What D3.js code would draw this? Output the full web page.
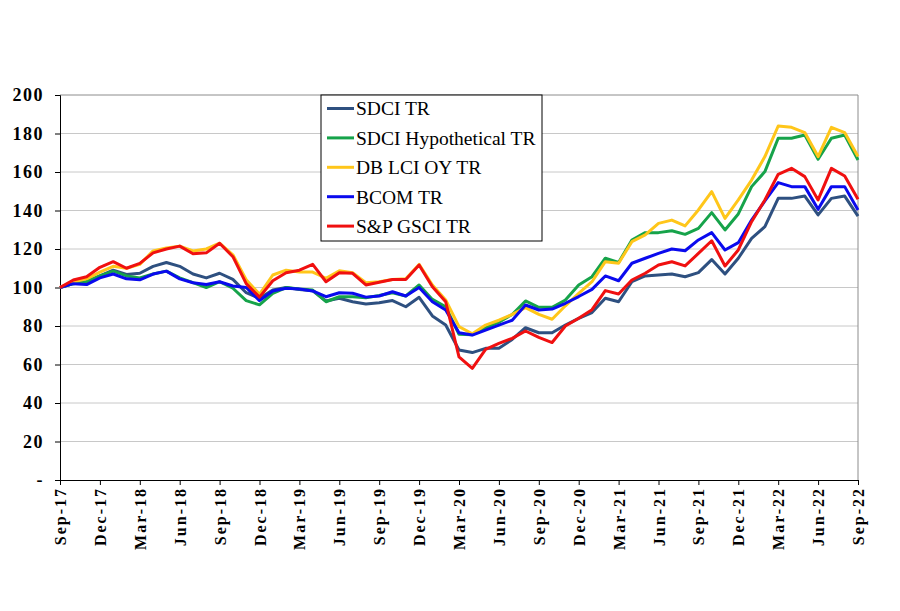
<!DOCTYPE html>
<html><head><meta charset="utf-8">
<script src="https://cdn.jsdelivr.net/npm/d3@7"></script>
<style>
html,body{margin:0;padding:0;background:#fff;}
svg{display:block;}
</style></head>
<body>
<svg id="chart" width="900" height="611"></svg>
<script>
const tickLabels = ["Sep-17","Dec-17","Mar-18","Jun-18","Sep-18","Dec-18","Mar-19","Jun-19","Sep-19","Dec-19","Mar-20","Jun-20","Sep-20","Dec-20","Mar-21","Jun-21","Sep-21","Dec-21","Mar-22","Jun-22","Sep-22"];
const yTicks = [0,20,40,60,80,100,120,140,160,180,200];
const seriesNames = ["SDCI TR","SDCI Hypothetical TR","DB LCI OY TR","BCOM TR","S&P GSCI TR"];
const sdci = [100,102,103,106,109,106.8,107.4,111,113,111,107,105,107.4,104.2,97.3,94.4,98.7,100,99,98.3,93,94.4,92.6,91.4,92.1,93.2,90,94.9,85.2,80.5,67.5,66.2,68.4,68.4,73,79.1,76.5,76.5,80.5,84,87,94.4,92.6,103,106,106.5,107,105.6,107.7,114.5,107,115.2,125.5,131.6,146.3,146.3,147.5,137.7,146.3,147.5,137.1];
const sdciHyp = [100,102,103,106,108.5,106,105,107,108.5,105,102.5,100,103,99.6,93.2,91,97,100,99.2,98.7,92.6,95.2,95.2,94.7,95.8,97.3,95.6,101.3,93.8,90,75.7,75.5,79,82,86,93,89.7,89.7,93.5,101.3,105.6,115.2,113,124.7,128.5,128.5,129.5,127.6,130.7,138.9,129.9,138.2,152.4,160.2,177.5,177.5,179.2,166.6,177.5,179.2,166.2];
const dbLci = [100,103,104.5,108,111,110,112,119,120.5,121.5,119,120,123,117,104,96.5,106.5,109,108,108,104.8,108.7,107.7,102.5,103,104.2,104.5,112,101.3,93.5,79.7,76,80.5,83,86,89.5,86,83.5,90.5,97,103,113.4,112.6,123.8,127.3,133.3,135,132,140.3,149.8,135.9,145.5,155.8,168,183.9,183.2,180.5,168,183.2,180.5,168];
const bcom = [100,102,101.5,105,107,104.5,104,107,108.5,104.5,102.5,101.6,103,100.8,100,93.2,98.2,99.6,99.2,98.2,95.2,97.3,97,95,95.6,97.8,95.6,100,92.6,88.3,76.5,75.3,77.9,80.5,83,90.9,88.3,88.8,91.8,95.3,99,106,103.5,112.6,115.2,117.7,120,119.1,124.7,128.5,119.5,123.3,135,145,154.5,152.4,152.4,140.6,152.4,152.4,140.3];
const gsci = [100,103.9,105.6,110.5,113.4,110,112.5,118,120,121.5,117.5,118,123,116,102,95,103.5,107.7,109,112,103,107.7,107.4,101.3,102.7,104.2,104.2,111.7,100.4,92.6,64,58,67.9,71,73.6,77.4,74.1,71.4,80,84,88.5,98.4,96.6,103.9,107.4,111.7,113.4,111.2,117.7,124.3,111.2,119.5,134.2,145.5,158.8,161.9,157.6,145.5,161.9,157.9,145.9];
const colors = ["#2E5080","#16A34A","#FFC61A","#0A0AEE","#F01010"];

const svg = d3.select("#chart");
const mLeft = 60, mRight = 858, mTop = 95, mBottom = 480;
const x = d3.scaleLinear().domain([0, sdci.length - 1]).range([mLeft, mRight]);
const y = d3.scaleLinear().domain([0, 200]).range([mBottom, mTop]);

// gridlines
svg.append("g").selectAll("line").data(yTicks.filter(d => d > 0)).join("line")
  .attr("x1", mLeft).attr("x2", mRight)
  .attr("y1", d => y(d)).attr("y2", d => y(d))
  .attr("stroke", d => d === 200 ? "#8c8c8c" : "#c8c8c8").attr("stroke-width", 1);
// right border
svg.append("line").attr("x1", mRight).attr("x2", mRight).attr("y1", mTop).attr("y2", mBottom)
  .attr("stroke", "#8c8c8c").attr("stroke-width", 1);

// y axis
const yAxis = svg.append("g").attr("transform", `translate(${mLeft},0)`)
  .call(d3.axisLeft(y).tickValues(yTicks).tickSize(5).tickPadding(11)
    .tickFormat(d => d === 0 ? "-" : d3.format("d")(d)));
yAxis.select(".domain").attr("stroke", "#000");
yAxis.selectAll(".tick line").attr("stroke", "#000");
yAxis.selectAll("text").attr("font-family", "'Liberation Serif', 'Times New Roman', serif")
  .attr("font-weight", "bold").attr("font-size", 18).attr("letter-spacing", "1.5px").attr("fill", "#000");

// x axis
const xAxis = svg.append("g").attr("transform", `translate(0,${mBottom})`)
  .call(d3.axisBottom(x).tickValues(d3.range(0, sdci.length, 3)).tickSize(5)
    .tickFormat((d, i) => tickLabels[i]));
xAxis.select(".domain").attr("stroke", "#000");
xAxis.selectAll(".tick line").attr("stroke", "#000");
xAxis.selectAll("text")
  .attr("font-family", "'Liberation Serif', 'Times New Roman', serif")
  .attr("font-weight", "bold").attr("font-size", 16).attr("fill", "#000")
  .attr("letter-spacing", "2px")
  .attr("text-anchor", "end").attr("dy", null).attr("y", 0).attr("x", -7)
  .attr("transform", "rotate(-90)").attr("dominant-baseline", "central");

// lines
const all = [sdci, sdciHyp, dbLci, bcom, gsci];
const line = d3.line().x((d, i) => x(i)).y(d => y(d));
svg.append("g").selectAll("path").data(all).join("path")
  .attr("d", line).attr("fill", "none")
  .attr("stroke", (d, i) => colors[i]).attr("stroke-width", 3)
  .attr("stroke-linejoin", "round");

// legend
const lg = svg.append("g").attr("transform", "translate(321,95)");
lg.append("rect").attr("x", 0).attr("y", 0).attr("width", 221).attr("height", 146)
  .attr("fill", "#fff").attr("stroke", "#000").attr("stroke-width", 1);
const items = lg.selectAll("g.item").data(seriesNames).join("g")
  .attr("transform", (d, i) => `translate(0,${13.5 + i * 29.4})`);
items.append("line").attr("x1", 6).attr("x2", 33).attr("y1", 0).attr("y2", 0)
  .attr("stroke", (d, i) => colors[i]).attr("stroke-width", 3);
items.append("text").attr("x", 35).attr("y", 0).attr("dy", "0.35em")
  .attr("font-family", "'Liberation Serif', 'Times New Roman', serif")
  .attr("font-size", 19.5).attr("fill", "#000").text(d => d);
</script>
</body></html>
